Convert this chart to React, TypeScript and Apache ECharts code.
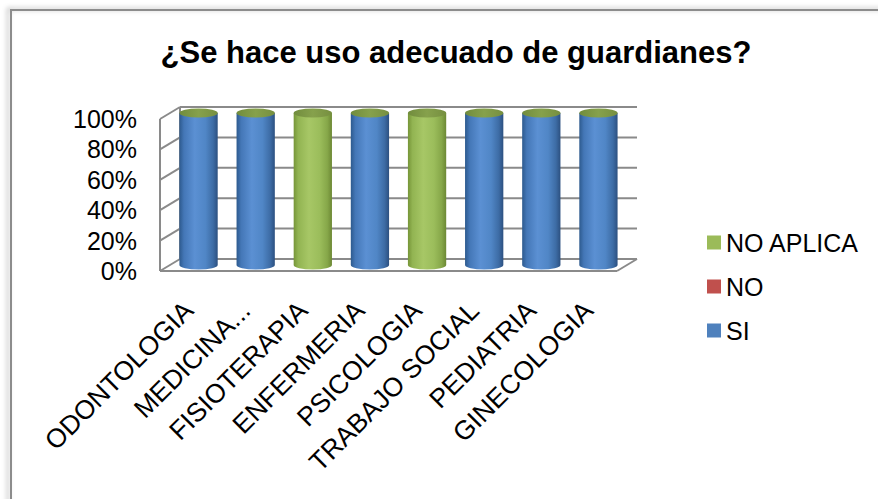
import React, { useEffect, useRef } from "react";
import * as echarts from "echarts";

const categories = ["ODONTOLOGIA", "MEDICINA...", "FISIOTERAPIA", "ENFERMERIA", "PSICOLOGIA", "TRABAJO SOCIAL", "PEDIATRIA", "GINECOLOGIA"];
const siValues = [100, 100, 0, 100, 0, 100, 100, 100];
const noValues = [0, 0, 0, 0, 0, 0, 0, 0];
const noAplicaValues = [0, 0, 100, 0, 100, 0, 0, 0];
const yTicks = [0, 20, 40, 60, 80, 100];
const seriesNames = ["SI", "NO", "NO APLICA"];
const titleText = "¿Se hace uso adecuado de guardianes?";

const FONT = "'Liberation Sans', Arial, sans-serif";
const DEPTH_X = 20;
const DEPTH_Y = -12;
const GRID_COLOR = "#8a8a8a";

const palettes: Record<string, { base: string; stops: string[] }> = {
  SI: { base: "#4f81bd", stops: ["#2d5a8e", "#4477b7", "#5b90d3", "#5086c6", "#3d6ca5", "#2c5080"] },
  NO: { base: "#c0504d", stops: ["#8c3230", "#b44946", "#cf6461", "#c25754", "#a34240", "#7e2d2b"] },
  "NO APLICA": { base: "#9bbb59", stops: ["#769538", "#92b452", "#a7c766", "#9bbd5b", "#86a749", "#6c8834"] },
};

function gradient(stops: string[]) {
  const pos = [0, 0.12, 0.4, 0.68, 0.88, 1];
  return {
    type: "linear",
    x: 0,
    y: 0,
    x2: 1,
    y2: 0,
    colorStops: stops.map((c, i) => ({ offset: pos[i], color: c })),
  };
}

export default function App() {
  const ref = useRef<HTMLDivElement>(null);

  useEffect(() => {
    if (!ref.current) return;
    const chart = echarts.init(ref.current, undefined, { renderer: "svg" });

    const stacks = [siValues, noValues, noAplicaValues];
    const cum = categories.map(() => 0);
    const seriesData = stacks.map((vals) =>
      vals.map((v, i) => {
        const base = cum[i];
        cum[i] += v;
        return [i, base, cum[i]];
      })
    );

    const cylinderRender = (name: string, isLast: boolean) => (params: any, api: any) => {
      const cat = api.value(0);
      const base = api.value(1);
      const top = api.value(2);
      const pb = api.coord([cat, base]);
      const pt = api.coord([cat, top]);
      const band = api.size([1, 0])[0];
      const r = band * 0.335;
      const ry = 4.5;
      const cx = pb[0] + DEPTH_X / 2;
      const yb = pb[1] + DEPTH_Y / 2;
      const yt = pt[1] + DEPTH_Y / 2;
      const pal = palettes[name];
      const children: any[] = [];
      if (top > base) {
        children.push({
          type: "path",
          shape: {
            pathData: `M${cx - r},${yt} L${cx - r},${yb} A${r},${ry} 0 0 0 ${cx + r},${yb} L${cx + r},${yt} Z`,
          },
          style: { fill: gradient(pal.stops) },
        });
      }
      if (isLast) {
        children.push({
          type: "path",
          shape: {
            pathData: `M${cx - r},${yt} A${r},${ry} 0 1 0 ${cx + r},${yt} A${r},${ry} 0 1 0 ${cx - r},${yt} Z`,
          },
          style: {
            fill: {
              type: "linear",
              x: 0,
              y: 0,
              x2: 1,
              y2: 0,
              colorStops: [
                { offset: 0, color: "#718c3d" },
                { offset: 0.5, color: "#86a14c" },
                { offset: 1, color: "#768f40" },
              ],
            },
          },
        });
      }
      return { type: "group", children };
    };

    const wallsRender = (params: any, api: any) => {
      const v = api.value(1);
      const cs = params.coordSys;
      const x0 = cs.x;
      const x1 = cs.x + cs.width;
      const y = api.coord([0, v])[1];
      const ls = { stroke: GRID_COLOR, lineWidth: 2 };
      const children: any[] = [
        { type: "line", shape: { x1: x0 + DEPTH_X, y1: y + DEPTH_Y, x2: x1 + DEPTH_X, y2: y + DEPTH_Y }, style: ls },
        { type: "line", shape: { x1: x0, y1: y, x2: x0 + DEPTH_X, y2: y + DEPTH_Y }, style: ls },
      ];
      if (v === yTicks[0]) {
        children.push({ type: "line", shape: { x1: x0, y1: y, x2: x1, y2: y }, style: ls });
        children.push({ type: "line", shape: { x1: x1, y1: y, x2: x1 + DEPTH_X, y2: y + DEPTH_Y }, style: ls });
        const yTop = api.coord([0, yTicks[yTicks.length - 1]])[1];
        children.push({ type: "line", shape: { x1: x0, y1: y, x2: x0, y2: yTop }, style: ls });
        children.push({ type: "line", shape: { x1: x0 + DEPTH_X, y1: y + DEPTH_Y, x2: x0 + DEPTH_X, y2: yTop + DEPTH_Y }, style: ls });
      }
      return { type: "group", children };
    };

    const option: any = {
      animation: false,
      backgroundColor: "#ffffff",
      title: {
        text: titleText,
        left: 451,
        top: 32,
        textAlign: "center",
        textStyle: { fontFamily: FONT, fontSize: 31, fontWeight: "bold", color: "#000" },
      },
      graphic: [
        {
          type: "polyline",
          shape: { points: [[11, 520], [11, 10], [900, 10]] },
          style: {
            fill: null,
            stroke: "#8c8c8c",
            lineWidth: 2,
            shadowBlur: 5,
            shadowOffsetX: -3,
            shadowOffsetY: -1,
            shadowColor: "rgba(0,0,0,0.3)",
          },
          z: -10,
          silent: true,
        },
      ],
      legend: {
        orient: "vertical",
        left: 707,
        top: 230,
        padding: 0,
        itemWidth: 14,
        itemHeight: 14,
        itemGap: 19,
        icon: "rect",
        data: ["NO APLICA", "NO", "SI"],
        textStyle: { fontFamily: FONT, fontSize: 25, color: "#000" },
      },
      grid: { left: 160, right: 261, top: 119, bottom: 228 },
      xAxis: {
        type: "category",
        data: categories,
        axisLine: { show: false },
        axisTick: { show: false },
        splitLine: { show: false },
        axisLabel: {
          interval: 0,
          rotate: 45,
          margin: 35,
          fontFamily: FONT,
          fontSize: 26.5,
          color: "#000",
        },
      },
      yAxis: {
        type: "value",
        min: 0,
        max: 100,
        interval: 20,
        axisLine: { show: false },
        axisTick: { show: false },
        splitLine: { show: false },
        axisLabel: {
          formatter: "{value}%",
          margin: 23,
          fontFamily: FONT,
          fontSize: 25,
          color: "#000",
        },
      },
      series: [
        {
          name: "walls",
          type: "custom",
          silent: true,
          z: 1,
          renderItem: wallsRender,
          data: yTicks.map((v) => [0, v]),
        },
        ...seriesNames.map((name, si) => ({
          name,
          type: "custom",
          z: 2 + si,
          itemStyle: { color: palettes[name].base },
          renderItem: cylinderRender(name, si === seriesNames.length - 1),
          data: seriesData[si],
        })),
      ],
    };

    chart.setOption(option);
    return () => chart.dispose();
  }, []);

  return <div ref={ref} style={{ position: "fixed", left: 0, top: 0, width: 878, height: 499 }} />;
}
